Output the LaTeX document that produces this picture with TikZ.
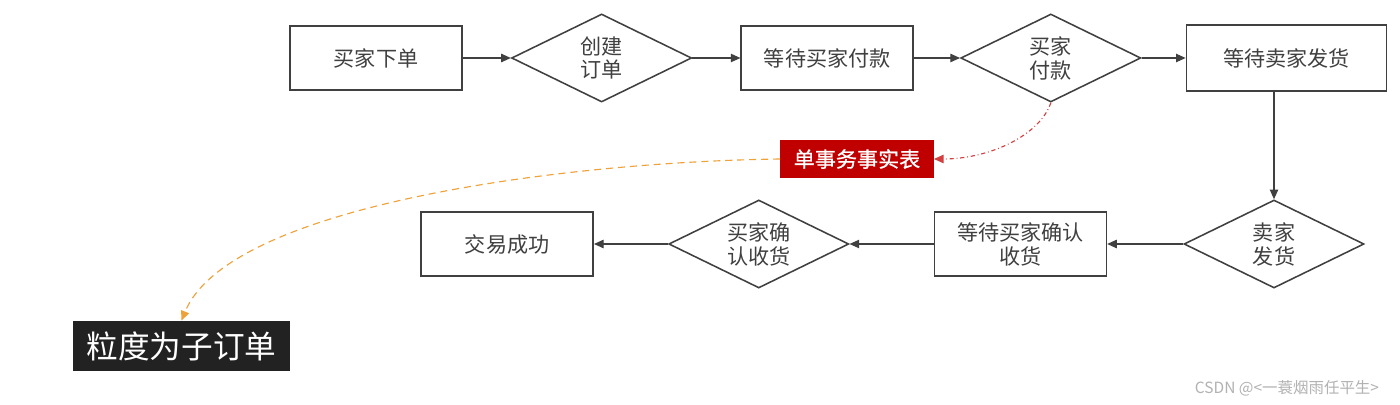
\documentclass[tikz,border=0pt]{standalone}
\usepackage{fontspec}
\newfontfamily\cjk{Noto Sans CJK SC}
\newfontfamily\cjkb[FakeBold=0.8]{Noto Sans CJK SC}
\usetikzlibrary{positioning, arrows.meta, shapes.geometric}

\definecolor{linegray}{HTML}{404040}
\definecolor{factred}{HTML}{C00000}
\definecolor{linkred}{HTML}{D2403F}
\definecolor{grainorange}{HTML}{EFA23A}
\definecolor{graindark}{HTML}{222222}

\begin{document}
\begin{tikzpicture}[x=0.025cm, y=-0.025cm, >={Triangle[length=2.4mm, width=2.1mm]}, semithick,
    every node/.style={font=\cjk\fontsize{15}{17}\selectfont, text=linegray},
    stage/.style={draw=linegray, line width=1.1pt, rectangle, minimum width=4.3cm, minimum height=1.6cm, align=center},
    choice/.style={draw=linegray, line width=1.1pt, diamond, aspect=2, inner sep=0pt, minimum width=4.5cm, minimum height=2.2cm, align=center},
    flow/.style={->, draw=linegray, line width=0.8pt}]
        \useasboundingbox[fill=white] (0,0) rectangle (1400,405);

        % top row, left to right
        \node[stage] (order) at (376,58) {买家下单};
        \node[choice, right=1.2cm of order] (create) {创建\\订单};
        \node[stage, right=1.2cm of create] (waitpay) {等待买家付款};
        \node[choice, right=1.15cm of waitpay] (pay) {买家\\付款};
        \node[stage, minimum width=5cm, minimum height=1.65cm, right=1.1cm of pay] (waitship) {等待卖家发货};

        % bottom row, right to left
        \node[choice] (ship) at (1274,244) {卖家\\发货};
        \node[stage, left=1.9cm of ship] (waitconfirm) {等待买家确认\\收货};
        \node[choice, left=2.1cm of waitconfirm] (confirm) {买家确\\认收货};
        \node[stage, left=1.85cm of confirm] (done) {交易成功};

        \node[fill=factred, text=white, font=\cjkb\fontsize{15}{17}\selectfont, minimum width=3.825cm, minimum height=0.95cm] (fact) at (857,159) {单事务事实表};
        \node[fill=graindark, text=white, font=\cjk\fontsize{22.5}{26}\selectfont, minimum width=5.425cm, minimum height=1.25cm] (grain) at (181.5,346) {粒度为子订单};

        \draw[flow] (order) -- (create);
        \draw[flow] (create) -- (waitpay);
        \draw[flow] (waitpay) -- (pay);
        \draw[flow] (pay) -- (waitship);
        \draw[flow] (waitship.south -| ship.north) -- (ship.north);
        \draw[flow] (ship) -- (waitconfirm);
        \draw[flow] (waitconfirm) -- (confirm);
        \draw[flow] (confirm) -- (done);

        \draw[->, linkred, dash dot, line width=0.8pt] (pay.south) .. controls (1040,135) and (990,159) .. (fact.east);
        \draw[->, grainorange, dash pattern=on 5pt off 3.5pt, line width=0.8pt] (fact.west) .. controls (560,162) and (228,206) .. (grain.north);

        \node[text=gray!60, font=\cjk\fontsize{11}{13}\selectfont] (mark) at (1287,388) {CSDN @<一蓑烟雨任平生>};
      \end{tikzpicture}
\end{document}
